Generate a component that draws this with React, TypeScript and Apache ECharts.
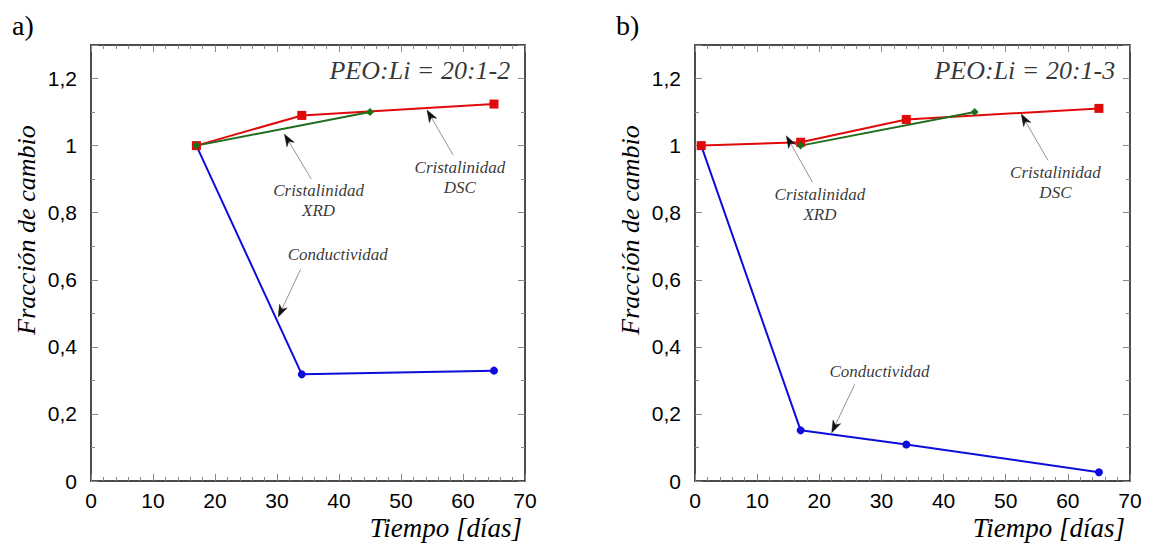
import React, { useEffect, useRef } from "react";
import * as echarts from "echarts";

// ---------- data ----------
const xTickValues = [0, 10, 20, 30, 40, 50, 60, 70];
const yTickValues = [0, 0.2, 0.4, 0.6, 0.8, 1, 1.2];

// panel a) PEO:Li = 20:1-2
const condA = [[17, 1.0], [34, 0.318], [65, 0.329]];
const xrdA = [[17, 1.0], [45, 1.1]];
const dscA = [[17, 1.0], [34, 1.09], [65, 1.124]];

// panel b) PEO:Li = 20:1-3
const condB = [[1, 1.0], [17, 0.151], [34, 0.109], [65, 0.026]];
const xrdB = [[17, 1.0], [45, 1.1]];
const dscB = [[1, 1.0], [17, 1.01], [34, 1.078], [65, 1.111]];

const seriesNames = ["Conductividad", "Cristalinidad XRD", "Cristalinidad DSC"];
const panelTitles = ["PEO:Li = 20:1-2", "PEO:Li = 20:1-3"];
const panelLetters = ["a)", "b)"];
const xAxisName = "Tiempo [días]";
const yAxisName = "Fracción de cambio";

// annotation texts: [text, x, y]
const notesA: [string, number, number][] = [
  ["Cristalinidad\nXRD", 36.7, 0.836],
  ["Cristalinidad\nDSC", 59.5, 0.905],
  ["Conductividad", 39.8, 0.676],
];
const notesB: [string, number, number][] = [
  ["Cristalinidad\nXRD", 20.1, 0.823],
  ["Cristalinidad\nDSC", 58.0, 0.89],
  ["Conductividad", 29.7, 0.326],
];
// arrows: [tailX, tailY, tipX, tipY]
const arrowsA: number[][] = [
  [35.5, 0.901, 31.2, 1.034],
  [58.4, 0.972, 54.2, 1.106],
  [33.8, 0.631, 30.2, 0.489],
];
const arrowsB: number[][] = [
  [18.9, 0.891, 14.7, 1.029],
  [56.8, 0.956, 52.5, 1.094],
  [25.7, 0.288, 22.0, 0.144],
];
const titlePos: [number, number] = [67.7, 1.224];

// ---------- styles ----------
const SERIF = "Liberation Serif, DejaVu Serif, serif";
const SANS = "Liberation Sans, Arial, sans-serif";
const BLUE = "#0d0ddb";
const RED = "#e00a0a";
const GREEN = "#1e6e1e";

const grids = [
  { left: 91, top: 45, width: 434, height: 436 },
  { left: 695, top: 45, width: 435, height: 436 },
];

function xAxes(gridIndex: number) {
  const base = {
    type: "value",
    gridIndex,
    min: 0,
    max: 70,
    interval: 10,
    splitLine: { show: false },
    axisLine: { show: true, onZero: false, lineStyle: { color: "#111", width: 1.5 } },
    axisTick: { show: true, inside: true, length: 7, lineStyle: { color: "#888", width: 1 } },
    minorTick: { show: true, splitNumber: 5, length: 4, lineStyle: { color: "#888", width: 1 } },
  };
  return [
    {
      ...base,
      position: "bottom",
      axisLabel: {
        show: true,
        margin: 9,
        fontFamily: SANS,
        fontSize: 21,
        color: "#000",
        formatter: (v: number) => (xTickValues.includes(v) ? String(v) : ""),
      },
    },
    { ...base, position: "top", axisLabel: { show: false } },
  ];
}

function yAxes(gridIndex: number) {
  const base = {
    type: "value",
    gridIndex,
    min: 0,
    max: 1.3,
    interval: 0.2,
    splitLine: { show: false },
    axisLine: { show: true, onZero: false, lineStyle: { color: "#111", width: 1.5 } },
    axisTick: { show: true, inside: true, length: 7, lineStyle: { color: "#888", width: 1 } },
    minorTick: { show: true, splitNumber: 2, length: 4, lineStyle: { color: "#888", width: 1 } },
  };
  return [
    {
      ...base,
      position: "left",
      axisLabel: {
        show: true,
        margin: 14,
        showMaxLabel: false,
        fontFamily: SANS,
        fontSize: 21,
        color: "#000",
        formatter: (v: number) => {
          const r = Math.round(v * 10) / 10;
          return yTickValues.some((t) => Math.abs(t - r) < 1e-9) ? String(r).replace(".", ",") : "";
        },
      },
    },
    { ...base, position: "right", axisLabel: { show: false } },
  ];
}

function lineSeries(name: string, data: number[][], color: string, symbol: string, size: number, idx: number) {
  return {
    name,
    type: "line",
    xAxisIndex: idx * 2,
    yAxisIndex: idx * 2,
    data,
    symbol,
    symbolSize: size,
    showSymbol: true,
    lineStyle: { color, width: 2 },
    itemStyle: { color, borderWidth: 0 },
    z: 3,
  };
}

function arrowSeries(idx: number, arrows: number[][]) {
  return {
    type: "custom",
    xAxisIndex: idx * 2,
    yAxisIndex: idx * 2,
    silent: true,
    data: arrows,
    z: 5,
    renderItem: (params: any, api: any) => {
      const t = api.coord([api.value(0), api.value(1)]);
      const h = api.coord([api.value(2), api.value(3)]);
      const dx = h[0] - t[0];
      const dy = h[1] - t[1];
      const len = Math.sqrt(dx * dx + dy * dy) || 1;
      const ux = dx / len;
      const uy = dy / len;
      const px = -uy;
      const py = ux;
      const L = 12;
      const W = 4.2;
      const N = 8.5;
      const back = [h[0] - ux * L, h[1] - uy * L];
      const notch = [h[0] - ux * N, h[1] - uy * N];
      return {
        type: "group",
        children: [
          {
            type: "line",
            shape: { x1: t[0], y1: t[1], x2: notch[0], y2: notch[1] },
            style: { stroke: "#777", lineWidth: 0.8 },
          },
          {
            type: "polygon",
            shape: {
              points: [
                h,
                [back[0] + px * W, back[1] + py * W],
                notch,
                [back[0] - px * W, back[1] - py * W],
              ],
            },
            style: { fill: "#111", stroke: "#111", lineWidth: 0.5 },
          },
        ],
      };
    },
  };
}

function panelSeries(
  idx: number,
  cond: number[][],
  xrd: number[][],
  dsc: number[][],
  notes: [string, number, number][],
  arrows: number[][]
) {
  const labelStyle = {
    fontFamily: SERIF,
    fontStyle: "italic",
    fontSize: 17,
    lineHeight: 20,
    color: "#000",
  };
  return [
    lineSeries(seriesNames[0], cond, BLUE, "circle", 8, idx),
    lineSeries(seriesNames[2], dsc, RED, "rect", 9, idx),
    lineSeries(seriesNames[1], xrd, GREEN, "diamond", 8, idx),
    {
      type: "scatter",
      xAxisIndex: idx * 2,
      yAxisIndex: idx * 2,
      symbol: "circle",
      symbolSize: 1,
      itemStyle: { color: "rgba(0,0,0,0)" },
      silent: true,
      data: notes
        .map(([t, x, y]) => ({
          value: [x, y],
          label: { show: true, position: "inside", formatter: t, ...labelStyle } as any,
        }))
        .concat([
          {
            value: titlePos,
            label: {
              show: true,
              position: "left",
              distance: 0,
              formatter: panelTitles[idx],
              fontFamily: SERIF,
              fontStyle: "italic",
              fontSize: 26,
              color: "#000",
            } as any,
          },
        ]),
      z: 4,
    },
    arrowSeries(idx, arrows),
  ];
}

function textEl(text: string, x: number, y: number, fontSize: number, italic: boolean, align: string, rotation = 0) {
  return {
    type: "text",
    x,
    y,
    rotation,
    style: {
      text,
      fill: "#000",
      fontFamily: SERIF,
      fontSize,
      fontStyle: italic ? "italic" : "normal",
      textAlign: align,
      textVerticalAlign: "middle",
    },
  };
}

export default function App() {
  const ref = useRef<HTMLDivElement>(null);
  useEffect(() => {
    if (!ref.current) return;
    const chart = echarts.init(ref.current, null, { renderer: "svg" });
    const option: any = {
      animation: false,
      backgroundColor: "#ffffff",
      grid: grids.map((g) => ({ ...g, containLabel: false })),
      xAxis: [...xAxes(0), ...xAxes(1)],
      yAxis: [...yAxes(0), ...yAxes(1)],
      series: [
        ...panelSeries(0, condA, xrdA, dscA, notesA, arrowsA),
        ...panelSeries(1, condB, xrdB, dscB, notesB, arrowsB),
      ],
      graphic: [
        textEl(panelLetters[0], 12, 25, 28, false, "left"),
        textEl(panelLetters[1], 616, 25, 28, false, "left"),
        textEl(yAxisName, 26, 230, 26, true, "center", Math.PI / 2),
        textEl(yAxisName, 630, 230, 26, true, "center", Math.PI / 2),
        textEl(xAxisName, 522, 528, 27, true, "right"),
        textEl(xAxisName, 1125, 528, 27, true, "right"),
      ],
    };
    chart.setOption(option);
    return () => chart.dispose();
  }, []);
  return (
    <div
      ref={ref}
      style={{ position: "fixed", left: 0, top: 0, width: 1153, height: 545, background: "#fff" }}
    />
  );
}
